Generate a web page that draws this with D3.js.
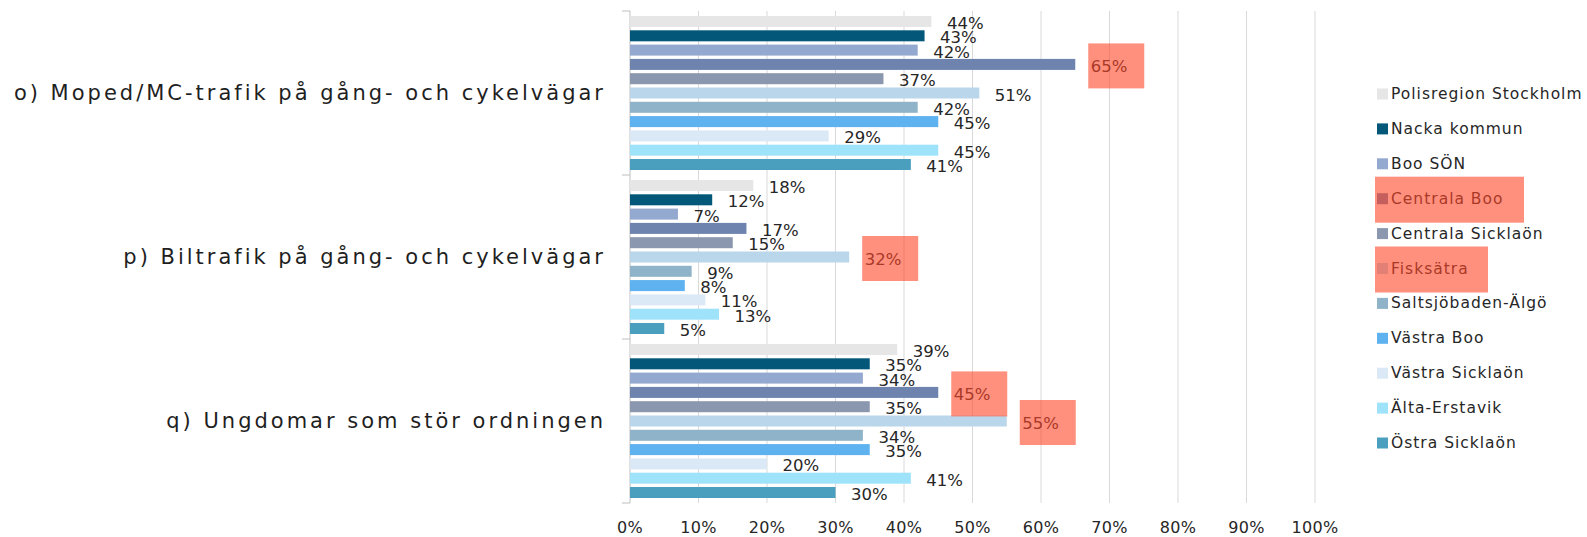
<!DOCTYPE html>
<html>
<head>
<meta charset="utf-8">
<script src="https://cdn.jsdelivr.net/npm/d3@7"></script>
<style>
  body { margin: 0; background: #fff; }
  svg { display: block; font-family: "DejaVu Sans", sans-serif; }
</style>
</head>
<body>
<div id="chart"></div>
<script>
// categories (top to bottom)
var categories = [
  'o) Moped/MC-trafik på gång- och cykelvägar',
  'p) Biltrafik på gång- och cykelvägar',
  'q) Ungdomar som stör ordningen'
];

var seriesNames = [
  'Polisregion Stockholm', 'Nacka kommun', 'Boo SÖN', 'Centrala Boo',
  'Centrala Sicklaön', 'Fisksätra', 'Saltsjöbaden-Älgö', 'Västra Boo',
  'Västra Sicklaön', 'Älta-Erstavik', 'Östra Sicklaön'
];

var seriesColors = [
  '#e6e6e6', '#03587a', '#93a9d0', '#6e84ae', '#8b97ae', '#b9d6ea',
  '#8fb3c9', '#5eb2f0', '#dbe8f5', '#9fe3fb', '#4a9fbf'
];

// values in %, one array per category, in series order
var valuesO = [44, 43, 42, 65, 37, 51, 42, 45, 29, 45, 41];
var valuesP = [18, 12, 7, 17, 15, 32, 9, 8, 11, 13, 5];
var valuesQ = [39, 35, 34, 45, 35, 55, 34, 35, 20, 41, 30];

var xTicks = [0, 10, 20, 30, 40, 50, 60, 70, 80, 90, 100];

// hand-made highlight marks (category index, series index)
var marked = [[0, 3], [1, 5], [2, 3], [2, 5]];
var markedLegend = [3, 5];

var width = 1587, height = 537;
var plot = {left: 630, right: 1315, top: 11, bottom: 503};

var svg = d3.select('#chart').append('svg')
  .attr('width', width).attr('height', height);

var allValues = [valuesO, valuesP, valuesQ];

var x = d3.scaleLinear().domain([0, 100]).range([plot.left, plot.right]);
var y = d3.scaleBand().domain(d3.range(categories.length))
  .range([plot.top, plot.bottom]).padding(0);
var ys = d3.scaleBand().domain(d3.range(seriesNames.length))
  .range([0, y.bandwidth()]).paddingInner(0.23).paddingOuter(0.35);

// gridlines
svg.append('g').selectAll('line').data(xTicks.slice(1)).join('line')
  .attr('x1', function (d) { return x(d); }).attr('x2', function (d) { return x(d); })
  .attr('y1', plot.top).attr('y2', plot.bottom)
  .attr('stroke', '#d9d9d9').attr('stroke-width', 1);

// x tick labels
svg.append('g').selectAll('text').data(xTicks).join('text')
  .attr('x', function (d) { return x(d); })
  .attr('y', 527)
  .attr('text-anchor', 'middle').attr('dominant-baseline', 'central')
  .attr('font-size', 16).attr('letter-spacing', 0.3).attr('fill', '#262626')
  .text(function (d) { return d + '%'; });

// category axis
var axis = svg.append('g');
axis.append('line')
  .attr('x1', plot.left).attr('x2', plot.left)
  .attr('y1', plot.top).attr('y2', plot.bottom)
  .attr('stroke', '#bfbfbf');
axis.selectAll('line.tick').data(d3.range(categories.length + 1)).join('line')
  .attr('class', 'tick')
  .attr('x1', plot.left - 8).attr('x2', plot.left)
  .attr('y1', function (d) { return plot.top + d * y.bandwidth(); })
  .attr('y2', function (d) { return plot.top + d * y.bandwidth(); })
  .attr('stroke', '#bfbfbf');

axis.selectAll('text').data(categories).join('text')
  .attr('x', 606)
  .attr('y', function (d, i) { return y(i) + y.bandwidth() / 2; })
  .attr('text-anchor', 'end').attr('dominant-baseline', 'central')
  .attr('font-size', 21).attr('letter-spacing', 3).attr('fill', '#1f1f1f')
  .text(function (d) { return d; });

// bars + labels
var groups = svg.append('g').selectAll('g').data(allValues).join('g')
  .attr('transform', function (d, i) { return 'translate(0,' + y(i) + ')'; });

groups.selectAll('rect').data(function (d) { return d; }).join('rect')
  .attr('x', x(0))
  .attr('y', function (d, i) { return ys(i); })
  .attr('width', function (d) { return x(d) - x(0); })
  .attr('height', ys.bandwidth())
  .attr('fill', function (d, i) { return seriesColors[i]; });

groups.selectAll('text').data(function (d) { return d; }).join('text')
  .attr('x', function (d) { return x(d) + 15.5; })
  .attr('y', function (d, i) { return ys(i) + ys.bandwidth() / 2 + 2; })
  .attr('dominant-baseline', 'central')
  .attr('font-size', 16.5).attr('fill', '#262626')
  .text(function (d) { return d + '%'; });

// legend
var legendY = d3.scalePoint().domain(d3.range(seriesNames.length)).range([94, 443]);
var legend = svg.append('g');
legend.selectAll('rect').data(seriesNames).join('rect')
  .attr('x', 1377).attr('y', function (d, i) { return legendY(i) - 5.5; })
  .attr('width', 11).attr('height', 11)
  .attr('fill', function (d, i) { return seriesColors[i]; });
legend.selectAll('text').data(seriesNames).join('text')
  .attr('x', 1391).attr('y', function (d, i) { return legendY(i); })
  .attr('dominant-baseline', 'central')
  .attr('font-size', 15.5).attr('letter-spacing', 1.0).attr('fill', '#262626')
  .text(function (d) { return d; });

// highlight overlays
var hl = svg.append('g').attr('fill', 'rgb(255,70,40)').attr('fill-opacity', 0.6);
hl.selectAll('rect.bar').data(marked).join('rect')
  .attr('class', 'bar')
  .attr('x', function (m) { return x(allValues[m[0]][m[1]]) + 13; })
  .attr('y', function (m) { return y(m[0]) + ys(m[1]) + ys.bandwidth() / 2 - 21; })
  .attr('width', 56).attr('height', 45);
hl.selectAll('rect.leg').data(markedLegend).join('rect')
  .attr('class', 'leg')
  .attr('x', 1375)
  .attr('y', function (i) { return legendY(i) - 22; })
  .attr('width', function (i) { return i === 3 ? 149 : 113; })
  .attr('height', 46);
</script>
</body>
</html>
